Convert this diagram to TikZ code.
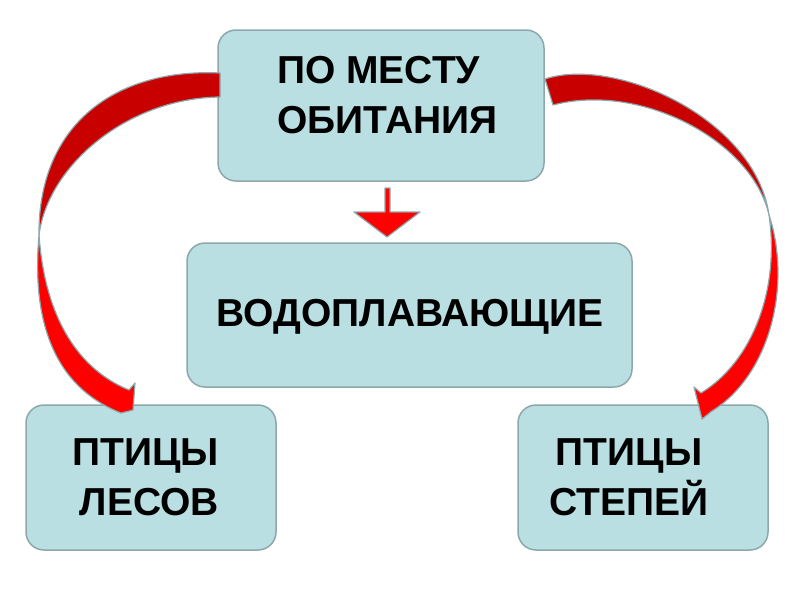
\documentclass[tikz,border=0pt]{standalone}
\usepackage{fontspec}
\setmainfont{Liberation Sans}
\definecolor{boxfill}{RGB}{185,223,227}
\definecolor{boxline}{RGB}{140,168,170}
\definecolor{backred}{RGB}{200,0,0}
\definecolor{frontred}{RGB}{255,0,0}
\begin{document}
\begin{tikzpicture}[x=1pt,y=-1pt,
    box/.style={draw=boxline,line width=1.5pt,fill=boxfill,rounded corners=18pt,inner sep=0pt},
    lbl/.style={inner sep=0pt,font=\bfseries\fontsize{39}{50}\selectfont},
    band/.style={draw=boxline,line width=1.2pt,line join=round}]
  \useasboundingbox (0,0) rectangle (800,600);
  \node[box,minimum width=326pt,minimum height=151pt] (habitat) at (381,105.5) {};
  \node[box,minimum width=445pt,minimum height=144pt] (water) at (409.5,315) {};
  \node[box,minimum width=250pt,minimum height=145pt] (forest) at (151,477.5) {};
  \node[box,minimum width=250pt,minimum height=145pt] (steppe) at (643,477.5) {};
  \node[lbl,align=left,anchor=west] (habitattext) at (277,95.5) {ПО МЕСТУ\\ОБИТАНИЯ};
  \node[lbl] (watertext) at (410,317) {ВОДОПЛАВАЮЩИЕ};
  \node[lbl,align=right,anchor=east] (foresttext) at (219,477) {ПТИЦЫ\\ЛЕСОВ};
  \node[lbl,align=center] (steppetext) at (629,477) {ПТИЦЫ\\СТЕПЕЙ};
  \draw[band,fill=backred] (220,73) .. controls (115,68) and (38,125) .. (39,235)
        .. controls (48,165) and (128,98) .. (220,97) -- cycle;
  \draw[band,fill=frontred] (39,235) .. controls (32,315) and (50,385) .. (121,413)
        -- (133,410) -- (135,383) -- (129,390) .. controls (80,370) and (45,320) .. (39,235) -- cycle;
  \draw[band,fill=backred] (545,79) .. controls (615,56) and (755,118) .. (769,215)
        .. controls (752,140) and (640,82) .. (553,105) -- cycle;
  \draw[band,fill=frontred] (769,215) .. controls (792,285) and (770,375) .. (712,411)
        -- (702,419) -- (694,387) -- (701,393) .. controls (752,362) and (780,290) .. (769,215) -- cycle;
  \draw[band,fill=frontred] (385,188) -- (390,188) -- (390,212) -- (420,212) -- (387,237)
        -- (354,212) -- (385,212) -- cycle;
\end{tikzpicture}
\end{document}
